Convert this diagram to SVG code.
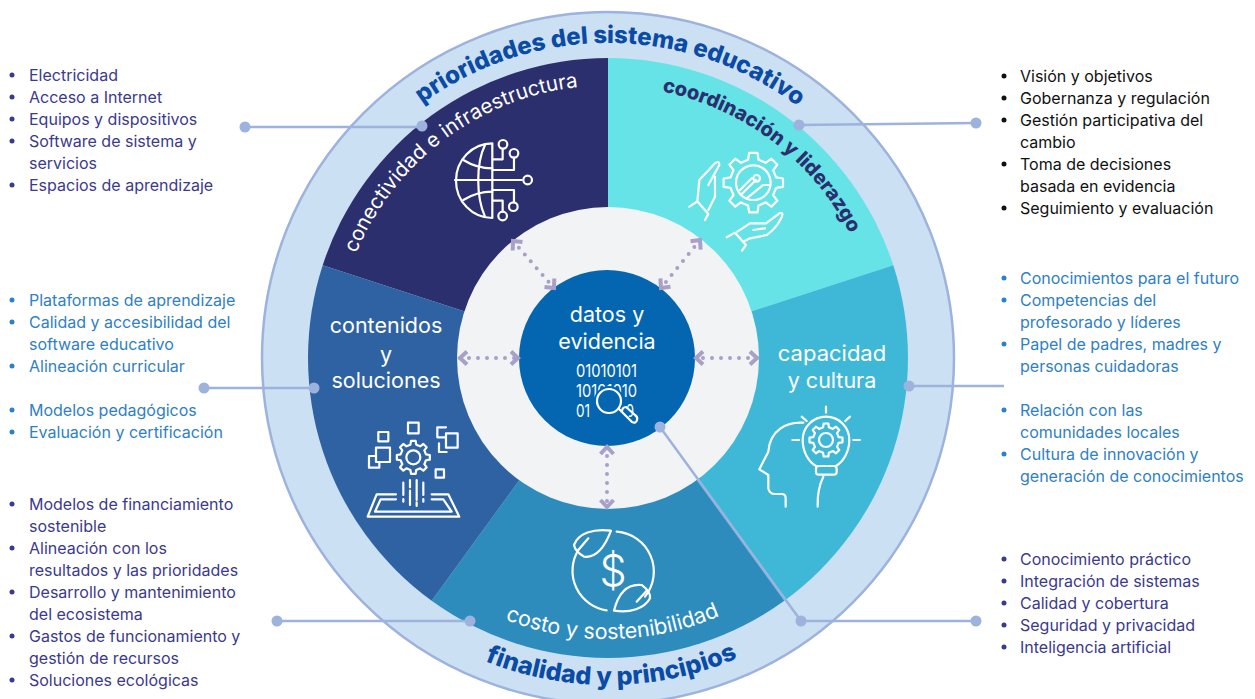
<svg xmlns="http://www.w3.org/2000/svg" width="1255" height="699" viewBox="0 0 1255 699">
<style>
text{font-family:"Inter","Liberation Sans",sans-serif}
.l{font-size:16px}
.ind{fill:#3b3a8c}.blu{fill:#2f80c4}.blk{fill:#111}
.b{stroke:none}
.ic,.ic *,#gear{fill:none;stroke:#fff;stroke-width:2.2;vector-effect:non-scaling-stroke;stroke-linecap:round;stroke-linejoin:round}
.w{fill:#fff;font-size:21.5px;text-anchor:middle}
.cl{fill:none;stroke:#9db2dc;stroke-width:2.5}
.dot{fill:#9db2dc}
.ar{fill:none;stroke:#a8a0c8;stroke-width:4;stroke-linecap:round;stroke-dasharray:0 9;marker-start:url(#chev);marker-end:url(#chev)}
</style>
<defs>
<marker id="chev" markerUnits="userSpaceOnUse" markerWidth="20" markerHeight="20" refX="12" refY="10" orient="auto-start-reverse"><path d="M5,3.5 L12,10 L5,16.5" fill="none" stroke="#a8a0c8" stroke-width="4"/></marker>
<path id="gear" d="M-17.5,-76 L-13.9,-99 L13.9,-99 L17.5,-76 L41.3,-66.1 L60.2,-79.9 L79.9,-60.2 L66.1,-41.3 L76,-17.5 L99,-13.9 L99,13.9 L76,17.5 L66.1,41.3 L79.9,60.2 L60.2,79.9 L41.3,66.1 L17.5,76 L13.9,99 L-13.9,99 L-17.5,76 L-41.3,66.1 L-60.2,79.9 L-79.9,60.2 L-66.1,41.3 L-76,17.5 L-99,13.9 L-99,-13.9 L-76,-17.5 L-66.1,-41.3 L-79.9,-60.2 L-60.2,-79.9 L-41.3,-66.1 Z"/>
<path id="a1" d="M293,358 A315,315 0 0 1 923,358"/>
<path id="a2" d="M356,253.5 A273,273 0 0 1 702,102"/>
<path id="a3" d="M662,91.5 A272,272 0 0 1 876,311"/>
<path id="a4" d="M327,358 A281,281 0 0 0 889,358"/>
<path id="a5" d="M281,358 A327,327 0 0 0 935,358"/>
</defs>
<rect width="1255" height="699" fill="#fff"/>
<g id="anillo-exterior">
<circle cx="608" cy="358" r="346" fill="#cbe0f2" stroke="#9db2dc" stroke-width="2.5"/>
<text font-size="24" font-weight="800" fill="#0a4ba6" text-anchor="middle"><textPath href="#a1" startOffset="497">prioridades del sistema educativo</textPath></text>
<text font-size="25" font-weight="800" fill="#0a4ba6" text-anchor="middle"><textPath href="#a5" startOffset="517">finalidad y principios</textPath></text>
</g>
<g id="conectividad">
<path d="M608,358 L608,58 A300,300 0 0 0 322.7,265.3 Z" fill="#2c2f6e"/>
<text font-size="20.5" fill="#fff"><textPath href="#a2">conectividad e infraestructura</textPath></text>
<g class="ic" transform="translate(330,0) scale(.3333)">
<path d="M487,430 A109,112 0 0 0 487,654 Z"/><path d="M465,435 C438,490 438,590 465,650"/>
<path d="M375,540 H575"/><path d="M400,480 Q440,505 487,505"/><path d="M400,600 Q440,575 487,575"/>
<path d="M490,478 H518 V447"/><circle cx="519" cy="433" r="13"/>
<path d="M490,510 H552 V473"/><circle cx="552" cy="460" r="13"/>
<circle cx="593" cy="540" r="13"/>
<path d="M490,570 H552 V607"/><circle cx="550" cy="620" r="13"/>
<path d="M490,602 H518 V634"/><circle cx="518" cy="648" r="13"/>
</g>
</g>
<g id="coordinacion">
<path d="M608,358 L608,58 A300,300 0 0 1 893.3,265.3 Z" fill="#66e3e6"/>
<text font-size="20" font-weight="800" fill="#2c2f6e"><textPath href="#a3">coordinación y liderazgo</textPath></text>
<g class="ic" transform="translate(600,0) scale(.3333)">
<use href="#gear" transform="translate(460,548) scale(.9)"/>
<circle cx="460" cy="548" r="52"/>
<path d="M422,585 L468,540"/><path d="M440,595 L490,555 H508"/><path d="M420,570 L455,535"/><circle cx="470" cy="535" r="10"/>
<path d="M268,620 L292,604 L325,642 L315,660"/>
<path d="M292,604 L298,540 L345,490 Q358,480 358,495 L325,555"/>
<path d="M325,630 L345,590 L345,530"/>
<path d="M380,712 L405,698 L438,735 L426,752"/>
<path d="M412,695 L450,670 L498,670 L538,640 Q550,635 546,650 Q530,685 500,705 L450,715 L430,725"/>
<path d="M460,690 L495,685"/>
</g>
</g>
<g id="capacidad">
<path d="M608,358 L893.3,265.3 A300,300 0 0 1 784.3,600.7 Z" fill="#3fb8d8"/>
<text class="w" x="832" y="361" style="font-size:22px">capacidad</text>
<text class="w" x="832" y="388">y cultura</text>
<g class="ic" transform="translate(740,380) scale(.3333)">
<path d="M190,128 C140,125 90,150 85,215 L58,268 L85,285 L85,325 Q88,342 105,342 L125,342 Q137,342 137,355 L137,380"/>
<path d="M228,258 C205,245 188,215 188,180 A70,70 0 0 1 328,180 C328,215 310,245 288,258"/>
<rect x="228" y="258" width="62" height="26" rx="8"/>
<path d="M250,290 C235,320 232,350 233,380"/>
<path d="M258,80 V98 M185,110 L200,123 M330,110 L316,123 M157,180 H177 M340,180 H360"/>
<use href="#gear" transform="translate(258,180) scale(.5)"/>
<circle cx="258" cy="180" r="21"/>
</g>
</g>
<g id="costo">
<path d="M608,358 L784.3,600.7 A300,300 0 0 1 431.7,600.7 Z" fill="#2e8cbd"/>
<text font-size="21.5" fill="#fff" text-anchor="middle"><textPath href="#a4" startOffset="446">costo y sostenibilidad</textPath></text>
<g class="ic" transform="translate(450,500) scale(.3333)">
<path d="M500,95 A120,120 0 0 1 585,290"/>
<path d="M470,331 A120,120 0 0 1 385,150"/>
<path d="M483,92 C430,85 385,100 372,135 C375,150 385,160 402,170 C440,175 465,140 483,92 Z"/>
<path d="M492,332 C505,280 530,250 575,255 C595,270 602,285 600,295 C585,325 540,340 492,332 Z"/>
<path d="M385,150 L415,115 M560,305 L590,272"/>
</g>
<text x="613" y="586" font-size="43" font-weight="300" fill="#fff" text-anchor="middle">$</text>
</g>
<g id="contenidos">
<path d="M608,358 L431.7,600.7 A300,300 0 0 1 322.7,265.3 Z" fill="#2e62a3"/>
<text class="w" x="386" y="333">contenidos</text>
<text class="w" x="386" y="362">y</text>
<text class="w" x="386" y="388">soluciones</text>
<g class="ic" transform="translate(320,400) scale(.3333)">
<rect x="175" y="96" width="30" height="28"/><rect x="264" y="68" width="32" height="32"/>
<use href="#gear" transform="translate(280,172) scale(.5)"/><circle cx="280" cy="172" r="21"/>
<path d="M168,168 H147 V203 H178 V186"/><rect x="168" y="143" width="42" height="43"/>
<path d="M378,82 H352 V112 H378 M357,130 V156 H380"/><rect x="378" y="100" width="35" height="43"/>
<rect x="347" y="208" width="25" height="25"/>
<path d="M228,283 H170 L143,350 H418 L385,283 H335"/><path d="M228,298 H182 L165,335 H395 L370,298 H335"/>
<path d="M250,248 V285 M250,297 V305 M270,240 V262 M270,272 V315 M290,240 V300 M290,307 V318 M310,248 V285 M310,297 V305"/>
</g>
</g>
<g id="datos">
<circle cx="608" cy="358" r="151" fill="#f2f3f5"/>
<circle cx="607" cy="358" r="88" fill="#0466b0"/>
<text class="w" x="607" y="322">datos y</text>
<text class="w" x="607" y="349">evidencia</text>
<g font-size="17" fill="#fff">
<text x="576" y="377" textLength="61" lengthAdjust="spacingAndGlyphs">01010101</text>
<text x="576" y="397" textLength="61" lengthAdjust="spacingAndGlyphs">10101010</text>
<text x="576" y="417" textLength="14" lengthAdjust="spacingAndGlyphs">01</text>
<text x="626" y="417" textLength="8" lengthAdjust="spacingAndGlyphs">0</text>
</g>
<circle cx="609" cy="401" r="15" fill="#0466b0"/>
<path d="M620,412 L627,418" stroke="#0466b0" stroke-width="16"/>
<g class="ic"><circle cx="609" cy="401" r="12"/><path d="M619,409 L622,412 M622,412 L632,422 Q636,424 637,420 Q638,417 635,415 L626,407 Q622,407 622,412"/></g>
</g>
<g id="conectores">
<path class="ar" d="M460,358 H518"/>
<path class="ar" d="M757,358 H696"/>
<path class="ar" d="M513,241 L554,288"/>
<path class="ar" d="M700,240 L661,288"/>
<path class="ar" d="M607,447 V507"/>
<path class="cl" d="M245,127 H422"/><circle class="dot" cx="245" cy="127" r="5.5"/><circle class="dot" cx="422" cy="126" r="5.5"/>
<path class="cl" d="M799,125 L976,123"/><circle class="dot" cx="799" cy="125" r="5.5"/><circle class="dot" cx="976" cy="123" r="5.5"/>
<path class="cl" d="M204,388 H314"/><circle class="dot" cx="204" cy="388" r="5.5"/><circle class="dot" cx="314" cy="388" r="5.5"/>
<path class="cl" d="M909,386 H1004"/><circle class="dot" cx="909" cy="386" r="5.5"/>
<path class="cl" d="M277,621 H470"/><circle class="dot" cx="277" cy="621" r="5.5"/><circle class="dot" cx="470" cy="621" r="5.5"/>
<path class="cl" d="M660,427 L801,621 H976"/><circle class="dot" cx="660" cy="427" r="5.5"/><circle class="dot" cx="801" cy="621" r="5.5"/><circle class="dot" cx="976" cy="621" r="5.5"/>
</g>
<g id="lista-infraestructura" class="l ind">
<circle class="b" cx="12" cy="75" r="2.5"/><circle class="b" cx="12" cy="97" r="2.5"/><circle class="b" cx="12" cy="119" r="2.5"/><circle class="b" cx="12" cy="141" r="2.5"/><circle class="b" cx="12" cy="185" r="2.5"/>
<text x="29" y="81">Electricidad</text><text x="29" y="103">Acceso a Internet</text><text x="29" y="125">Equipos y dispositivos</text><text x="29" y="147">Software de sistema y</text><text x="29" y="169">servicios</text><text x="29" y="191">Espacios de aprendizaje</text>
</g>
<g id="lista-contenidos" class="l blu">
<circle class="b" cx="12" cy="300" r="2.5"/><circle class="b" cx="12" cy="322" r="2.5"/><circle class="b" cx="12" cy="366" r="2.5"/><circle class="b" cx="12" cy="410" r="2.5"/><circle class="b" cx="12" cy="432" r="2.5"/>
<text x="29" y="306">Plataformas de aprendizaje</text><text x="29" y="328">Calidad y accesibilidad del</text><text x="29" y="350">software educativo</text><text x="29" y="372">Alineación curricular</text><text x="29" y="416">Modelos pedagógicos</text><text x="29" y="438">Evaluación y certificación</text>
</g>
<g id="lista-costo" class="l ind">
<circle class="b" cx="12" cy="504" r="2.5"/><circle class="b" cx="12" cy="548" r="2.5"/><circle class="b" cx="12" cy="592" r="2.5"/><circle class="b" cx="12" cy="636" r="2.5"/><circle class="b" cx="12" cy="680" r="2.5"/>
<text x="29" y="510">Modelos de financiamiento</text><text x="29" y="532">sostenible</text><text x="29" y="554">Alineación con los</text><text x="29" y="576">resultados y las prioridades</text><text x="29" y="598">Desarrollo y mantenimiento</text><text x="29" y="620">del ecosistema</text><text x="29" y="642">Gastos de funcionamiento y</text><text x="29" y="664">gestión de recursos</text><text x="29" y="686">Soluciones ecológicas</text>
</g>
<g id="lista-coordinacion" class="l blk">
<circle class="b" cx="1004" cy="76" r="2.5"/><circle class="b" cx="1004" cy="98" r="2.5"/><circle class="b" cx="1004" cy="120" r="2.5"/><circle class="b" cx="1004" cy="164" r="2.5"/><circle class="b" cx="1004" cy="208" r="2.5"/>
<text x="1020" y="82">Visión y objetivos</text><text x="1020" y="104">Gobernanza y regulación</text><text x="1020" y="126">Gestión participativa del</text><text x="1020" y="148">cambio</text><text x="1020" y="170">Toma de decisiones</text><text x="1020" y="192">basada en evidencia</text><text x="1020" y="214">Seguimiento y evaluación</text>
</g>
<g id="lista-capacidad" class="l blu">
<circle class="b" cx="1004" cy="278" r="2.5"/><circle class="b" cx="1004" cy="300" r="2.5"/><circle class="b" cx="1004" cy="344" r="2.5"/><circle class="b" cx="1004" cy="410" r="2.5"/><circle class="b" cx="1004" cy="454" r="2.5"/>
<text x="1020" y="284">Conocimientos para el futuro</text><text x="1020" y="306">Competencias del</text><text x="1020" y="328">profesorado y líderes</text><text x="1020" y="350">Papel de padres, madres y</text><text x="1020" y="372">personas cuidadoras</text><text x="1020" y="416">Relación con las</text><text x="1020" y="438">comunidades locales</text><text x="1020" y="460">Cultura de innovación y</text><text x="1020" y="482">generación de conocimientos</text>
</g>
<g id="lista-datos" class="l ind">
<circle class="b" cx="1004" cy="559" r="2.5"/><circle class="b" cx="1004" cy="581" r="2.5"/><circle class="b" cx="1004" cy="603" r="2.5"/><circle class="b" cx="1004" cy="625" r="2.5"/><circle class="b" cx="1004" cy="647" r="2.5"/>
<text x="1020" y="565">Conocimiento práctico</text><text x="1020" y="587">Integración de sistemas</text><text x="1020" y="609">Calidad y cobertura</text><text x="1020" y="631">Seguridad y privacidad</text><text x="1020" y="653">Inteligencia artificial</text>
</g>
</svg>
